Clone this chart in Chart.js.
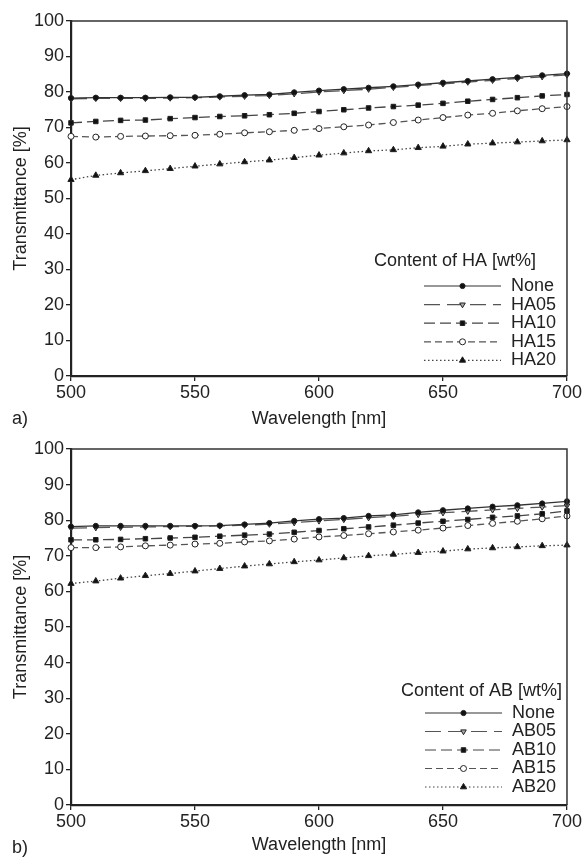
<!DOCTYPE html>
<html>
<head>
<meta charset="utf-8">
<script src="https://cdn.jsdelivr.net/npm/chart.js@4.4.0/dist/chart.umd.min.js"></script>
<style>
  body { margin: 0; background: #fff; }
  canvas { display: block; position: absolute; left: 0; }
</style>
</head>
<body>
<canvas id="chartA" width="583" height="430" style="top:0"></canvas>
<canvas id="chartB" width="583" height="427" style="top:430px"></canvas>
<script>
// wavelength points (nm)
var wavelength = [500, 510, 520, 530, 540, 550, 560, 570, 580, 590, 600, 610, 620, 630, 640, 650, 660, 670, 680, 690, 700];
var xTicks = [500, 550, 600, 650, 700];
var yTicks = [0, 10, 20, 30, 40, 50, 60, 70, 80, 90, 100];

// a) HA series, transmittance %
var seriesNamesA = ["None", "HA05", "HA10", "HA15", "HA20"];
var noneA = [78.3, 78.4, 78.4, 78.4, 78.5, 78.5, 78.8, 79.1, 79.3, 79.9, 80.4, 80.8, 81.2, 81.6, 82.1, 82.6, 83.1, 83.6, 84.1, 84.7, 85.2];
var ha05 = [78.1, 78.2, 78.2, 78.2, 78.3, 78.4, 78.6, 78.8, 79.0, 79.5, 80.0, 80.4, 80.8, 81.3, 81.8, 82.3, 82.8, 83.3, 83.8, 84.3, 84.8];
var ha10 = [71.3, 71.7, 72.0, 72.1, 72.5, 72.8, 73.1, 73.3, 73.6, 74.0, 74.5, 75.0, 75.5, 75.9, 76.3, 76.8, 77.4, 77.9, 78.4, 78.9, 79.3];
var ha15 = [67.5, 67.3, 67.5, 67.6, 67.7, 67.8, 68.1, 68.5, 68.8, 69.2, 69.7, 70.2, 70.7, 71.4, 72.1, 72.8, 73.5, 74.0, 74.7, 75.3, 75.9];
var ha20 = [55.3, 56.5, 57.2, 57.8, 58.4, 59.1, 59.7, 60.3, 60.8, 61.5, 62.2, 62.8, 63.4, 63.7, 64.3, 64.7, 65.3, 65.6, 65.9, 66.2, 66.5];

// b) AB series, transmittance %
var seriesNamesB = ["None", "AB05", "AB10", "AB15", "AB20"];
var noneB = [78.2, 78.4, 78.4, 78.4, 78.4, 78.4, 78.5, 78.8, 79.2, 79.8, 80.3, 80.6, 81.2, 81.5, 82.2, 82.8, 83.3, 83.8, 84.2, 84.7, 85.3];
var ab05 = [77.8, 77.9, 78.0, 78.1, 78.2, 78.3, 78.4, 78.6, 78.9, 79.3, 79.8, 80.2, 80.7, 81.1, 81.6, 82.1, 82.5, 82.9, 83.3, 83.7, 84.1];
var ab10 = [74.5, 74.5, 74.6, 74.8, 75.0, 75.2, 75.5, 75.8, 76.1, 76.6, 77.1, 77.6, 78.1, 78.6, 79.2, 79.7, 80.2, 80.8, 81.2, 81.8, 82.6];
var ab15 = [72.3, 72.3, 72.5, 72.8, 73.0, 73.3, 73.5, 73.9, 74.2, 74.7, 75.3, 75.7, 76.2, 76.7, 77.2, 77.8, 78.5, 79.1, 79.7, 80.4, 81.2];
var ab20 = [62.2, 62.9, 63.7, 64.4, 65.0, 65.7, 66.4, 67.1, 67.7, 68.3, 68.8, 69.4, 70.0, 70.4, 70.9, 71.3, 71.9, 72.2, 72.5, 72.8, 73.0];

Chart.defaults.font.family = "'Liberation Sans', Arial, sans-serif";
Chart.defaults.font.size = 18;
Chart.defaults.color = "#222";

// line + marker style of each of the 5 series (same in both panels)
var styles = [
    { dash: [], color: "#333", point: "circle", r: 2.6, fill: "#111", rot: 0 },
    { dash: [16, 7], color: "#555", point: "triangle", r: 3.2, fill: "#aaa", rot: 180 },
    { dash: [11, 5], color: "#444", point: "rect", r: 3.2, fill: "#111", rot: 0 },
    { dash: [7, 4], color: "#555", point: "circle", r: 3, fill: "#fff", rot: 0 },
    { dash: [1.5, 2.5], color: "#444", point: "triangle", r: 3.6, fill: "#111", rot: 0 }
];

function makeDatasets(names, seriesList) {
    var sets = [];
    for (let i = 0; i < names.length; i++) {
        var pts = [];
        for (let j = 0; j < wavelength.length; j++) {
            pts.push({ x: wavelength[j], y: seriesList[i][j] });
        }
        var s = styles[i];
        sets.push({
            label: names[i],
            data: pts,
            borderColor: s.color,
            borderWidth: 1.3,
            borderDash: s.dash,
            pointStyle: s.point,
            pointRadius: s.r,
            pointRotation: s.rot,
            pointBackgroundColor: s.fill,
            pointBorderColor: "#222",
            pointBorderWidth: 1,
            tension: 0,
            clip: false
        });
    }
    return sets;
}

// frame (top/right), legend inside the plot and the panel letter
var panelPlugin = {
    id: "panel",
    afterDraw: function (chart) {
        var ctx = chart.ctx;
        var a = chart.chartArea;
        var o = chart.options.plugins.panel;
        ctx.save();
        ctx.strokeStyle = "#333";
        ctx.lineWidth = 1.5;
        ctx.setLineDash([]);
        ctx.beginPath();
        ctx.moveTo(a.left, a.top);
        ctx.lineTo(a.right, a.top);
        ctx.lineTo(a.right, a.bottom);
        ctx.stroke();

        ctx.fillStyle = "#222";
        ctx.font = "18px 'Liberation Sans', Arial, sans-serif";
        ctx.textBaseline = "middle";
        ctx.textAlign = "right";
        ctx.fillText(o.title, o.titleRight, o.titleY);

        ctx.textAlign = "left";
        ctx.fillText(o.letter, 12, o.letterY);

        chart.data.datasets.forEach(function (ds, i) {
            var y = o.y0 + i * o.step;
            ctx.strokeStyle = ds.borderColor;
            ctx.lineWidth = 1.2;
            ctx.setLineDash(ds.borderDash);
            ctx.beginPath();
            ctx.moveTo(o.x1, y);
            ctx.lineTo(o.x2, y);
            ctx.stroke();
            ctx.setLineDash([]);
            ctx.fillStyle = ds.pointBackgroundColor;
            ctx.strokeStyle = "#222";
            ctx.lineWidth = 1;
            Chart.helpers.drawPoint(ctx, {
                pointStyle: ds.pointStyle,
                rotation: ds.pointRotation,
                radius: ds.pointRadius,
                borderWidth: 1
            }, (o.x1 + o.x2) / 2, y);
            ctx.fillStyle = "#222";
            ctx.fillText(ds.label, o.textX, y);
        });
        ctx.restore();
    }
};

function makeChart(id, names, seriesList, pad, xHeight, xTitlePad, panel) {
    return new Chart(id, {
        type: "line",
        data: { datasets: makeDatasets(names, seriesList) },
        options: {
            responsive: false,
            animation: false,
            devicePixelRatio: 1,
            layout: { padding: { left: 0, right: 16, top: pad, bottom: 0 } },
            plugins: {
                legend: { display: false },
                tooltip: { enabled: false },
                panel: panel
            },
            scales: {
                x: {
                    type: "linear",
                    min: 500,
                    max: 700,
                    afterFit: function (scale) { scale.height = xHeight; },
                    afterBuildTicks: function (scale) {
                        scale.ticks = xTicks.map(function (v) { return { value: v }; });
                    },
                    ticks: { maxRotation: 0, autoSkip: false, padding: 1, color: "#222" },
                    grid: { drawOnChartArea: false, drawTicks: true, tickLength: 5, color: "#222", lineWidth: 1.3 },
                    border: { display: true, color: "#222", width: 2.2 },
                    title: { display: true, text: "Wavelength [nm]", color: "#222", padding: { top: 0, bottom: xTitlePad } }
                },
                y: {
                    type: "linear",
                    min: 0,
                    max: 100,
                    afterFit: function (scale) { scale.width = 71; },
                    afterBuildTicks: function (scale) {
                        scale.ticks = yTicks.map(function (v) { return { value: v }; });
                    },
                    ticks: { padding: 2, color: "#222" },
                    grid: { drawOnChartArea: false, drawTicks: true, tickLength: 5, color: "#222", lineWidth: 1.3 },
                    border: { display: true, color: "#222", width: 2.2 },
                    title: { display: true, text: "Transmittance [%]", color: "#222", padding: { top: 10, bottom: 0 } }
                }
            }
        },
        plugins: [panelPlugin]
    });
}

makeChart("chartA", seriesNamesA, [noneA, ha05, ha10, ha15, ha20], 21, 54, 0, {
    title: "Content of HA [wt%]", titleRight: 536, titleY: 261, letter: "a)", letterY: 419,
    y0: 286, step: 18.6, x1: 424, x2: 501, textX: 511
});

makeChart("chartB", seriesNamesB, [noneB, ab05, ab10, ab15, ab20], 19, 52, 1, {
    title: "Content of AB [wt%]", titleRight: 562, titleY: 261, letter: "b)", letterY: 418,
    y0: 283, step: 18.5, x1: 425, x2: 502, textX: 512
});
</script>
</body>
</html>
